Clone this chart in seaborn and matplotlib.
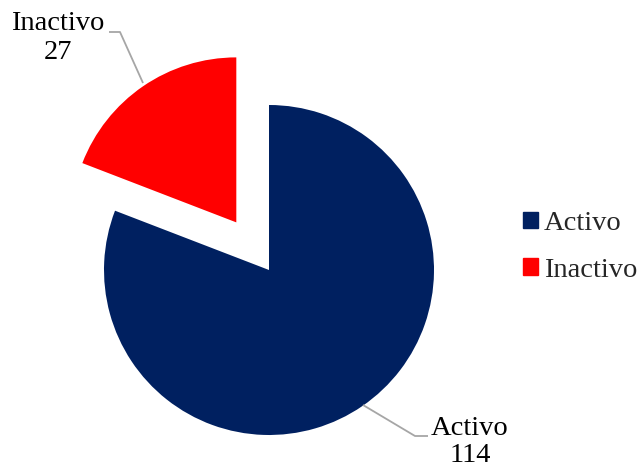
import matplotlib
matplotlib.use("Agg")
import matplotlib.pyplot as plt
import matplotlib.patches as mpatches
import seaborn as sns

# Data
categories = ["Activo", "Inactivo"]
counts = [114, 27]
colors = ["#002060", "#FF0000"]

sns.set_theme(style="white")
plt.rcParams["font.family"] = ["Liberation Serif", "DejaVu Serif"]

W, H = 641, 469
fig = plt.figure(figsize=(W / 100, H / 100), dpi=100)
ax = fig.add_axes([0, 0, 1, 1])

cx, cy, r = 269, H - 270, 165
wedges, _ = ax.pie(
    counts,
    colors=colors,
    startangle=90,
    counterclock=False,
    explode=[0, 0.35 * r],
    center=(cx, cy),
    radius=r,
    wedgeprops=dict(linewidth=0),
    frame=True,
)
ax.set_xlim(0, W)
ax.set_ylim(0, H)
ax.set_aspect("equal")
ax.axis("off")

line_kw = dict(color="#A6A6A6", linewidth=1.3, solid_capstyle="butt")
fs = 20.5

# Inactivo label with leader line
ax.plot([143, 120, 109], [H - 83, H - 32, H - 32], **line_kw)
ax.text(58, H - 38, f"{categories[1]}\n{counts[1]}", ha="center", va="center",
        fontsize=fs, linespacing=1.2, color="black")

# Activo label with leader line
ax.plot([363, 415, 428], [H - 405, H - 436, H - 436], **line_kw)
ax.text(470, 1, f"{categories[0]}\n{counts[0]}", ha="center", va="bottom",
        fontsize=fs, linespacing=1.1, color="black")

handles = [mpatches.Patch(color=c, label=l) for c, l in zip(colors, categories)]
fig.legend(handles=handles, loc="center left", bbox_to_anchor=(523 / W, 1 - 247 / H),
           frameon=False, fontsize=fs, handlelength=0.53, handleheight=0.53,
           handletextpad=0.2, labelspacing=0.77, borderpad=0, borderaxespad=0)

fig.savefig("out.png", dpi=100)
